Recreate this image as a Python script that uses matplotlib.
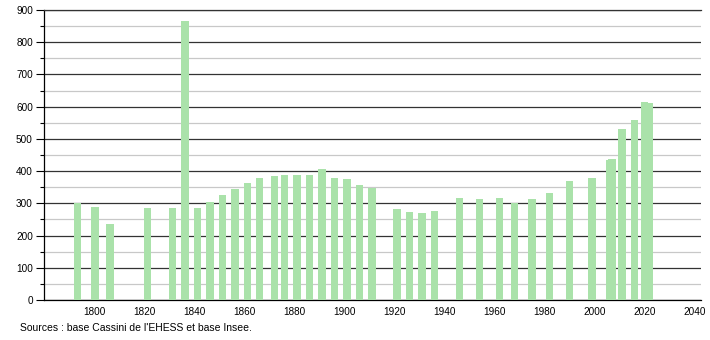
import matplotlib.pyplot as plt
from matplotlib.ticker import MultipleLocator

plt.rcParams['font.family'] = ['Liberation Sans', 'DejaVu Sans']

# census years and population
years = [1793, 1800, 1806, 1821, 1831, 1836, 1841, 1846, 1851, 1856,
         1861, 1866, 1872, 1876, 1881, 1886, 1891, 1896, 1901, 1906,
         1911, 1921, 1926, 1931, 1936, 1946, 1954, 1962, 1968, 1975,
         1982, 1990, 1999, 2006, 2007, 2011, 2016, 2020, 2022]
population = [300, 289, 236, 287, 287, 867, 287, 303, 325, 343,
              364, 380, 384, 389, 387, 389, 408, 380, 375, 356,
              348, 281, 272, 271, 276, 317, 314, 317, 302, 314,
              333, 368, 379, 433, 439, 532, 558, 613, 610]

xticks = list(range(1800, 2041, 20))
source = "Sources : base Cassini de l'EHESS et base Insee."

fig = plt.figure(figsize=(7.1, 3.4), dpi=100)
ax = fig.add_axes([44 / 710, 40 / 340, 657 / 710, 290 / 340])

ax.set_xlim(1779.6, 2042.7)
ax.set_ylim(0, 900)

# grid: dark lines every 100, light every 50
ax.yaxis.set_major_locator(MultipleLocator(100))
ax.yaxis.set_minor_locator(MultipleLocator(50))
ax.grid(axis='y', which='major', color='#333333', linewidth=0.9)
ax.grid(axis='y', which='minor', color='#c8c8c8', linewidth=0.9)
ax.set_axisbelow(True)

ax.bar(years, population, width=3, color='#aae2aa', zorder=3)

ax.set_xticks(xticks)
ax.tick_params(axis='x', length=0, pad=5, labelsize=7.2)
ax.tick_params(axis='y', which='major', length=6, width=0.8, labelsize=7.2, pad=2)
ax.tick_params(axis='y', which='minor', length=3, width=0.8)

ax.spines['right'].set_visible(False)
ax.spines['top'].set_color('#333333')
ax.spines['top'].set_linewidth(0.9)
ax.spines['left'].set_linewidth(0.9)
ax.spines['bottom'].set_linewidth(0.9)

fig.text(20 / 710, 1 - 328 / 340, source, fontsize=7.5, va='center', ha='left')

fig.savefig('out.png', dpi=100)
